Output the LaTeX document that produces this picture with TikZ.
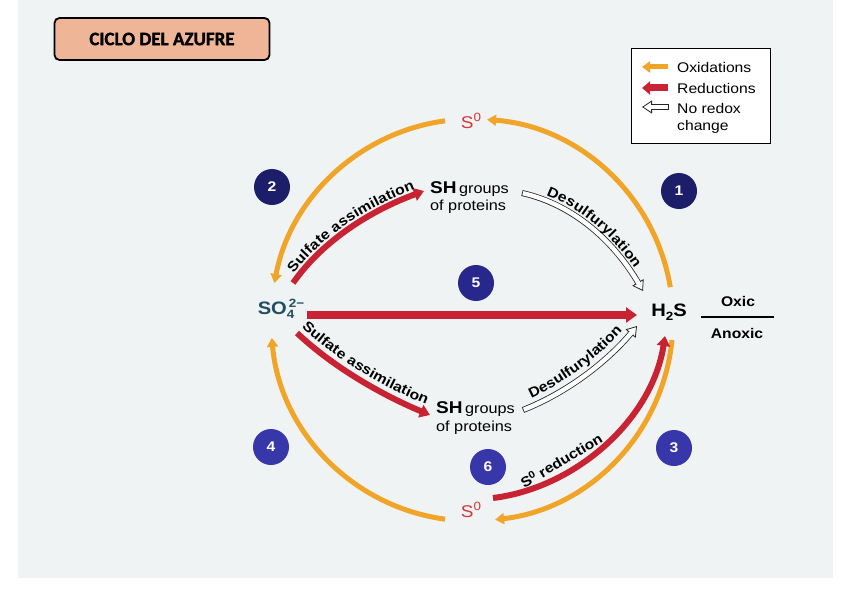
\documentclass[tikz,border=0pt]{standalone}
\usepackage{fontspec}
\setmainfont{Liberation Sans}[FakeStretch=1.12]
\newfontfamily\titlefont{Carlito}[BoldFeatures={FakeBold=1.5}]
\usetikzlibrary{arrows.meta,decorations.text}
\definecolor{oxo}{RGB}{240,165,40}
\definecolor{redc}{RGB}{200,35,50}
\definecolor{szero}{RGB}{215,55,55}
\definecolor{tealc}{RGB}{30,80,95}
\definecolor{navyA}{RGB}{28,30,105}
\definecolor{navyM}{RGB}{40,40,140}
\definecolor{navyB}{RGB}{55,55,170}
\definecolor{bgc}{RGB}{240,243,243}
\definecolor{salmon}{RGB}{238,182,150}
\newcommand{\lblfont}{\bfseries\fontsize{14}{16}\selectfont}
\newcommand{\nrarrow}[4]{%
  \draw[line width=0.8pt, draw=black!85, -{Triangle[length=10pt,width=13pt,fill=white]}] (#1) .. controls (#2) and (#3) .. (#4);
  \draw[line width=6pt, draw=black!85, shorten >=9pt] (#1) .. controls (#2) and (#3) .. (#4);
  \draw[line width=4.4pt, white, shorten >=8.5pt, shorten <=0.8pt] (#1) .. controls (#2) and (#3) .. (#4);
}
\begin{document}
\begin{tikzpicture}[x=1pt,y=-1pt,
  oxarrow/.style={draw=oxo, line width=5pt, -{Triangle[length=9pt,width=11pt]}},
  redarrow/.style={draw=redc, line width=6pt, -{Triangle[length=10pt,width=13pt]}},
  numc/.style={circle, minimum size=36pt, inner sep=0pt, text=white, font=\bfseries\fontsize{14}{14}\selectfont},
  bigchem/.style={inner sep=1pt, font=\bfseries\fontsize{18}{18}\selectfont},
  legtext/.style={anchor=west, inner sep=0pt, font=\fontsize{14}{14}\selectfont},
  oxtext/.style={inner sep=0pt, font=\bfseries\fontsize{14}{14}\selectfont}
]
\useasboundingbox (0,0) rectangle (848,599);
\fill[white] (0,0) rectangle (848,599);
\fill[bgc] (18,0) rectangle (833,578);

% title
\node[draw=black, line width=1.8pt, rounded corners=5pt, fill=salmon, minimum width=215pt, minimum height=42pt,
  font=\titlefont\bfseries\fontsize{19}{19}\selectfont] (title) at (162,39) {CICLO DEL AZUFRE};

% legend
\node[draw=black, line width=1pt, fill=white, minimum width=139pt, minimum height=94pt] (legend) at (700.5,96) {};
\coordinate (lo1) at (668,67); \coordinate (lo2) at (642,67);
\draw[draw=oxo, line width=5pt, -{Triangle[length=8pt,width=11pt]}] (lo1) -- (lo2);
\coordinate (lr1) at (668,88); \coordinate (lr2) at (642,88);
\draw[draw=redc, line width=7pt, -{Triangle[length=8pt,width=13pt]}] (lr1) -- (lr2);
\coordinate (ln1) at (669,107); \coordinate (ln2) at (642,107);
\coordinate (lnc1) at (660,107); \coordinate (lnc2) at (650,107);
\nrarrow{ln1}{lnc1}{lnc2}{ln2}
\node[legtext] (lgo) at (677,67) {Oxidations};
\node[legtext] (lgr) at (677,88) {Reductions};
\node[legtext] (lgn) at (677,108) {No redox};
\node[legtext] (lgc) at (677,127) {change};

% chemical species
\node[inner sep=1pt, text=szero, font=\fontsize{17}{17}\selectfont] (s0top) at (471,121) {S\raisebox{6.5pt}{\fontsize{12}{12}\selectfont 0}};
\node[inner sep=1pt, text=szero, font=\fontsize{17}{17}\selectfont] (s0bot) at (471,510) {S\raisebox{6.5pt}{\fontsize{12}{12}\selectfont 0}};
\node[bigchem, text=tealc] (so4) at (281,309) {SO\makebox[0pt][l]{\raisebox{-4pt}{\fontsize{12}{12}\selectfont 4}}\raisebox{6.5pt}{\fontsize{12}{12}\selectfont\,2−}};
\node[bigchem] (h2s) at (669,312) {H\raisebox{-4pt}{\fontsize{12}{12}\selectfont 2}S};
\node[anchor=north west, align=left, inner sep=0pt, font=\fontsize{14.5}{17}\selectfont] (sh1) at (430,181)
  {{\bfseries\fontsize{17}{17}\selectfont SH}\,groups\\of proteins};
\node[anchor=north west, align=left, inner sep=0pt, font=\fontsize{14.5}{18}\selectfont] (sh2) at (436,401)
  {{\bfseries\fontsize{17}{17}\selectfont SH}\,groups\\of proteins};

% oxic / anoxic
\node[oxtext] (oxic) at (738,301) {Oxic};
\node[oxtext] (anoxic) at (737,333) {Anoxic};
\coordinate (ol1) at (701,317); \coordinate (ol2) at (774,317);
\draw[line width=2pt] (ol1) -- (ol2);

% orange oxidation arcs
\coordinate (cc) at (472,320);
\draw[oxarrow] (cc) ++(-9.4:201) arc[start angle=-9.4, end angle=-85.7, radius=201];
\draw[oxarrow] (cc) ++(-97.7:201) arc[start angle=-97.7, end angle=-169.4, radius=201];
\draw[oxarrow] (cc) ++(5.7:201) arc[start angle=5.7, end angle=83.4, radius=201];
\draw[oxarrow] (cc) ++(97.7:201) arc[start angle=97.7, end angle=174.9, radius=201];

% red reduction arrows
\coordinate (sa1s) at (293,283); \coordinate (sa1e) at (424,191);
\draw[redarrow] (sa1s) .. controls (323,240) and (372,210) .. (sa1e);
\coordinate (sa2s) at (297,333); \coordinate (sa2e) at (430,415);
\draw[redarrow] (sa2s) .. controls (333,367) and (382,395) .. (sa2e);
\coordinate (st1) at (307,315); \coordinate (st2) at (637,315);
\draw[draw=redc, line width=8pt, -{Triangle[length=11pt,width=15pt]}] (st1) -- (st2);
\coordinate (s0rs) at (493,498); \coordinate (s0re) at (665,336);
\draw[redarrow] (s0rs) .. controls (575,488) and (652,420) .. (s0re);

% no redox arrows
\coordinate (ds1s) at (522,193); \coordinate (ds1e) at (643,291);
\coordinate (ds1a) at (575,205); \coordinate (ds1b) at (615,243);
\nrarrow{ds1s}{ds1a}{ds1b}{ds1e}
\coordinate (ds2s) at (523,410); \coordinate (ds2e) at (637,326);
\coordinate (ds2a) at (566,393); \coordinate (ds2b) at (606,363);
\nrarrow{ds2s}{ds2a}{ds2b}{ds2e}

% curved labels (text paths)
\path[decorate, decoration={text along path, text={|\lblfont|Sulfate assimilation}, text align=center, raise=5pt}]
  (sa1s) .. controls (323,240) and (372,210) .. (sa1e);
\coordinate (t2s) at (301,327); \coordinate (t2e) at (427,405);
\path[decorate, decoration={text along path, text={|\lblfont|Sulfate assimilation}, text align=center}]
  (t2s) .. controls (335,359) and (381,386) .. (t2e);
\path[decorate, decoration={text along path, text={|\lblfont|Desulfurylation}, text align=center, raise=5pt}]
  (ds1s) .. controls (ds1a) and (ds1b) .. (ds1e);
\coordinate (t4s) at (518,404); \coordinate (t4e) at (632,320);
\path[decorate, decoration={text along path, text={|\lblfont|Desulfurylation}, text align=center}]
  (t4s) .. controls (561,387) and (601,357) .. (t4e);
\node[rotate=31, inner sep=0pt, font=\lblfont] (s0red) at (561,460) {S\raisebox{5pt}{\fontsize{10}{10}\selectfont 0} reduction};

% numbered circles
\node[numc, fill=navyA] (n1) at (679,191) {1};
\node[numc, fill=navyA] (n2) at (272,187) {2};
\node[numc, fill=navyB] (n3) at (674,448) {3};
\node[numc, fill=navyB] (n4) at (271,447) {4};
\node[numc, fill=navyM] (n5) at (476,283) {5};
\node[numc, fill=navyB] (n6) at (488,467) {6};
\end{tikzpicture}
\end{document}
